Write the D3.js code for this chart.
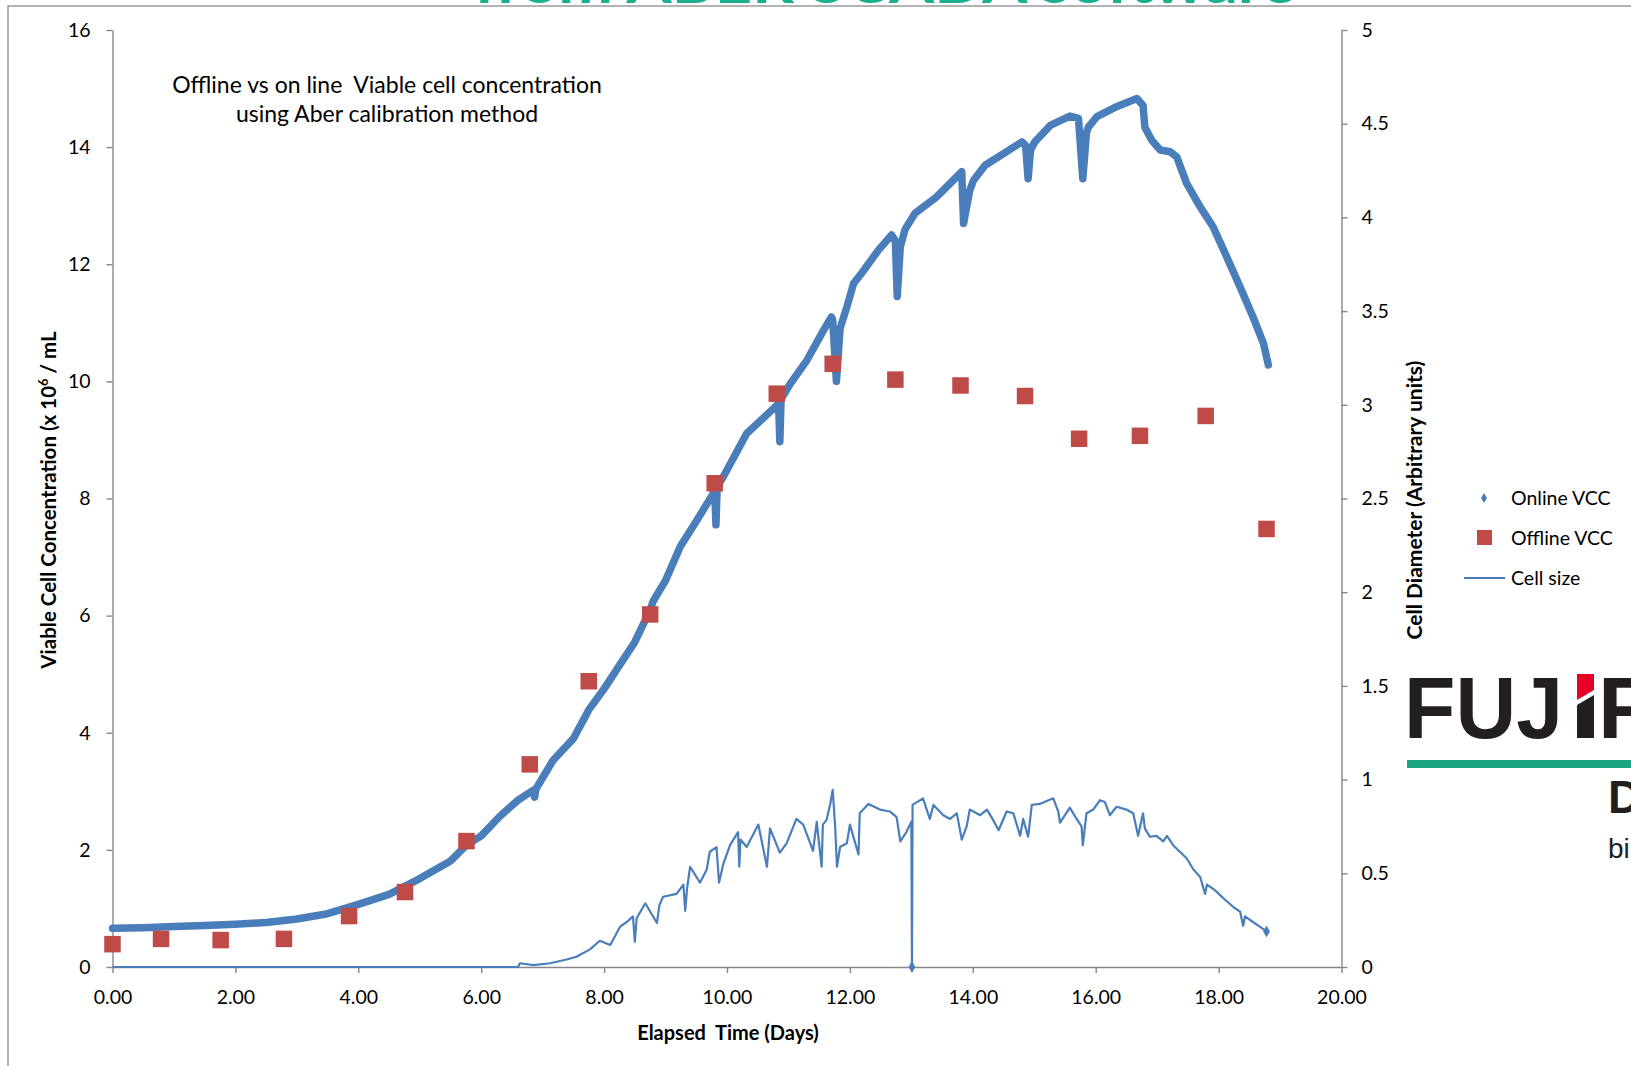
<!DOCTYPE html>
<html>
<head>
<meta charset="utf-8">
<script src="https://cdn.jsdelivr.net/npm/d3@7"></script>
<style>
  body { margin: 0; background: #fff; }
  text { font-family: Lato, "Open Sans", sans-serif; }
</style>
</head>
<body>
<script>
// offline samples (red squares)
var offlineDays = [0.0, 0.79, 1.76, 2.79, 3.85, 4.76, 5.76, 6.79, 7.75, 8.75, 9.80, 10.81, 11.72, 12.74, 13.80, 14.85, 15.73, 16.72, 17.79, 18.78];
var offlineVcc = [0.39, 0.48, 0.46, 0.48, 0.87, 1.28, 2.15, 3.46, 4.88, 6.02, 8.26, 9.79, 10.30, 10.03, 9.93, 9.75, 9.02, 9.07, 9.41, 7.48];

// online VCC (dips are the sampling events)
var onlineDays = [0.00, 0.50, 1.00, 1.50, 2.00, 2.50, 3.00, 3.50, 4.00, 4.50, 5.00, 5.50, 5.76, 6.00, 6.30, 6.60, 6.85, 6.87, 6.89, 7.17,
  7.50, 7.75, 8.00, 8.25, 8.50, 8.75, 8.80, 9.00, 9.24, 9.51, 9.78, 9.80, 9.82, 9.84, 9.94, 10.32, 10.70, 10.84, 10.86, 10.88,
  11.03, 11.30, 11.57, 11.70, 11.72, 11.78, 11.84, 11.95, 12.06, 12.20, 12.47, 12.68, 12.74, 12.77, 12.82, 12.90, 13.06, 13.40, 13.65, 13.82,
  13.85, 13.95, 14.01, 14.20, 14.50, 14.80, 14.86, 14.90, 14.94, 15.01, 15.26, 15.58, 15.72, 15.79, 15.85, 15.88, 16.02, 16.34, 16.67, 16.77,
  16.80, 16.91, 17.05, 17.21, 17.32, 17.48, 17.70, 17.91, 18.13, 18.35, 18.56, 18.73, 18.81];
var onlineVcc = [0.66, 0.67, 0.69, 0.71, 0.73, 0.76, 0.82, 0.91, 1.07, 1.24, 1.51, 1.81, 2.08, 2.24, 2.57, 2.85, 3.02, 2.90, 3.04, 3.53,
  3.90, 4.39, 4.75, 5.15, 5.55, 6.10, 6.25, 6.60, 7.18, 7.63, 8.09, 8.12, 7.55, 8.20, 8.37, 9.11, 9.48, 9.62, 8.97, 9.70,
  9.96, 10.36, 10.87, 11.10, 11.05, 10.00, 10.90, 11.27, 11.67, 11.86, 12.25, 12.50, 12.40, 11.45, 12.30, 12.60, 12.87, 13.14, 13.40, 13.58,
  12.70, 13.26, 13.43, 13.69, 13.89, 14.09, 14.03, 13.46, 13.95, 14.09, 14.37, 14.53, 14.49, 13.46, 14.25, 14.34, 14.52, 14.69, 14.83, 14.71,
  14.34, 14.12, 13.95, 13.92, 13.83, 13.38, 12.98, 12.64, 12.13, 11.61, 11.10, 10.65, 10.28];

// cell size (right axis)
var sizeDays = [0.00, 6.60, 6.63, 6.85, 7.12, 7.39, 7.55, 7.77, 7.93, 8.10, 8.26, 8.37, 8.47, 8.50, 8.53, 8.67, 8.86, 8.90, 8.96, 9.18,
  9.29, 9.32, 9.35, 9.40, 9.56, 9.67, 9.72, 9.83, 9.87, 9.94, 10.05, 10.18, 10.20, 10.22, 10.32, 10.51, 10.65, 10.70, 10.86, 10.97,
  11.13, 11.24, 11.40, 11.46, 11.54, 11.56, 11.62, 11.68, 11.72, 11.76, 11.79, 11.84, 11.95, 12.00, 12.14, 12.16, 12.30, 12.49, 12.65, 12.76,
  12.82, 12.92, 13.00, 13.01, 13.02, 13.19, 13.30, 13.36, 13.52, 13.63, 13.74, 13.82, 13.90, 13.95, 14.12, 14.23, 14.33, 14.42, 14.55, 14.66,
  14.77, 14.82, 14.90, 14.96, 15.09, 15.23, 15.31, 15.39, 15.42, 15.58, 15.69, 15.77, 15.79, 15.85, 15.96, 16.07, 16.15, 16.23, 16.34, 16.50,
  16.61, 16.69, 16.77, 16.80, 16.88, 16.99, 17.10, 17.16, 17.26, 17.37, 17.48, 17.59, 17.70, 17.78, 17.81, 17.94, 18.10, 18.24, 18.35, 18.40,
  18.43, 18.56, 18.67, 18.78];
var sizeValues = [0, 0, 0.02, 0.01, 0.02, 0.04, 0.055, 0.094, 0.14, 0.117, 0.215, 0.24, 0.27, 0.135, 0.26, 0.34, 0.235, 0.33, 0.375, 0.39,
  0.44, 0.30, 0.42, 0.535, 0.45, 0.52, 0.615, 0.64, 0.45, 0.55, 0.65, 0.72, 0.535, 0.68, 0.64, 0.76, 0.535, 0.74, 0.61, 0.66,
  0.79, 0.76, 0.62, 0.775, 0.535, 0.76, 0.785, 0.87, 0.945, 0.75, 0.535, 0.64, 0.66, 0.76, 0.60, 0.82, 0.87, 0.84, 0.83, 0.80,
  0.67, 0.72, 0.775, 0.0, 0.865, 0.90, 0.79, 0.865, 0.81, 0.79, 0.82, 0.68, 0.75, 0.84, 0.81, 0.84, 0.785, 0.73, 0.83, 0.82,
  0.70, 0.79, 0.695, 0.865, 0.87, 0.89, 0.90, 0.83, 0.77, 0.85, 0.79, 0.75, 0.65, 0.82, 0.84, 0.89, 0.88, 0.81, 0.855, 0.84,
  0.82, 0.70, 0.82, 0.74, 0.695, 0.70, 0.67, 0.70, 0.65, 0.615, 0.58, 0.52, 0.48, 0.39, 0.44, 0.41, 0.36, 0.32, 0.295, 0.22,
  0.27, 0.24, 0.215, 0.19];

var xTicks = [0, 2, 4, 6, 8, 10, 12, 14, 16, 18, 20];
var leftTicks = [0, 2, 4, 6, 8, 10, 12, 14, 16];
var rightTicks = [0, 0.5, 1, 1.5, 2, 2.5, 3, 3.5, 4, 4.5, 5];

var W = 1631, H = 1066;
var blue = "#4A7EBB", red = "#BE4B48", axisGrey = "#868686";

var svg = d3.select("body").append("svg")
    .attr("width", W)
    .attr("height", H);

// scales
var x = d3.scaleLinear().domain([0, 20]).range([112.5, 1341.5]);
var yL = d3.scaleLinear().domain([0, 16]).range([967, 30]);
var yR = d3.scaleLinear().domain([0, 5]).range([967, 30]);

// slide frame + cut off headline
svg.append("text")
    .attr("x", 885).attr("y", 3)
    .attr("text-anchor", "middle")
    .attr("textLength", 822).attr("lengthAdjust", "spacingAndGlyphs")
    .style("font-size", "58px").style("font-weight", "bold")
    .style("fill", "#1BAF8E")
    .text("from ABER SCADA software");

svg.append("path")
    .attr("d", "M8," + H + "V6H" + W)
    .attr("fill", "none").attr("stroke", "#9a9a9a").attr("stroke-width", 1.5);

// axes
function styleAxis(g) {
  g.selectAll("path, line").attr("stroke", axisGrey).attr("stroke-width", 1.4);
  g.selectAll("text").style("font-size", "19.5px").style("fill", "#000")
    .style("font-family", "Lato, sans-serif");
}

var xAxis = svg.append("g")
    .attr("transform", "translate(0," + yL(0) + ")")
    .call(d3.axisBottom(x).tickValues(xTicks).tickFormat(d3.format(".2f"))
      .tickSizeInner(6).tickSizeOuter(0).tickPadding(17));
styleAxis(xAxis);

var leftAxis = svg.append("g")
    .attr("transform", "translate(" + x(0) + ",0)")
    .call(d3.axisLeft(yL).tickValues(leftTicks).tickSizeInner(6).tickSizeOuter(0).tickPadding(16));
styleAxis(leftAxis);

var rightAxis = svg.append("g")
    .attr("transform", "translate(" + x(20) + ",0)")
    .call(d3.axisRight(yR).tickValues(rightTicks).tickFormat(d3.format("")).tickSizeInner(6).tickSizeOuter(0).tickPadding(14));
styleAxis(rightAxis);

// axis titles
var lt = svg.append("text")
    .attr("transform", "translate(56,500) rotate(-90)")
    .attr("text-anchor", "middle")
    .style("font-size", "20.5px").style("font-weight", "bold");
lt.append("tspan").text("Viable Cell Concentration (x 10");
lt.append("tspan").attr("baseline-shift", "super").style("font-size", "13px").text("6");
lt.append("tspan").text(" / mL");

svg.append("text")
    .attr("transform", "translate(1422,500) rotate(-90)")
    .attr("text-anchor", "middle")
    .style("font-size", "21px").style("font-weight", "bold")
    .text("Cell Diameter (Arbitrary units)");

svg.append("text")
    .attr("x", 728).attr("y", 1040)
    .attr("text-anchor", "middle")
    .attr("xml:space", "preserve")
    .style("font-size", "20px").style("font-weight", "bold")
    .text("Elapsed  Time (Days)");

// inner title
var title = svg.append("text")
    .attr("text-anchor", "middle")
    .attr("xml:space", "preserve")
    .style("font-size", "23px");
title.append("tspan").attr("x", 387).attr("y", 93).text("Offline vs on line  Viable cell concentration");
title.append("tspan").attr("x", 387).attr("y", 122).text("using Aber calibration method");

// build rows from the arrays
var online = onlineDays.map(function(d, i) { return {day: d, v: onlineVcc[i]}; });
var offline = offlineDays.map(function(d, i) { return {day: d, v: offlineVcc[i]}; });
var size = sizeDays.map(function(d, i) { return {day: d, v: sizeValues[i]}; });

// cell size line
var sizeLine = d3.line()
    .x(function(d) { return x(d.day); })
    .y(function(d) { return yR(d.v); });

svg.append("path")
    .datum(size)
    .attr("d", sizeLine)
    .attr("fill", "none")
    .attr("stroke", blue)
    .attr("stroke-width", 2.2)
    .attr("stroke-linejoin", "round");

var diamond = d3.symbol().type(d3.symbolDiamond).size(40);
svg.selectAll(".size-end")
    .data(size.filter(function(d, i) { return d.v === 0 && d.day > 12; }).concat([size[size.length - 1]]))
  .enter().append("path")
    .attr("transform", function(d) { return "translate(" + x(d.day) + "," + yR(d.v) + ")"; })
    .attr("d", diamond)
    .attr("fill", blue);

// online VCC - thick band of markers
var vccLine = d3.line()
    .x(function(d) { return x(d.day); })
    .y(function(d) { return yL(d.v); });

svg.append("path")
    .datum(online)
    .attr("d", vccLine)
    .attr("fill", "none")
    .attr("stroke", blue)
    .attr("stroke-width", 7.5)
    .attr("stroke-linejoin", "round")
    .attr("stroke-linecap", "round");

// offline squares
var sq = 16.5;
svg.selectAll(".off")
    .data(offline)
  .enter().append("rect")
    .attr("x", function(d) { return x(d.day) - sq / 2; })
    .attr("y", function(d) { return yL(d.v) - sq / 2; })
    .attr("width", sq).attr("height", sq)
    .attr("fill", red);

// legend
var legend = svg.append("g");
legend.append("path")
    .attr("transform", "translate(1484,498)")
    .attr("d", d3.symbol().type(d3.symbolDiamond).size(30))
    .attr("fill", blue);
legend.append("rect")
    .attr("x", 1477).attr("y", 530).attr("width", 15).attr("height", 15)
    .attr("fill", red);
legend.append("line")
    .attr("x1", 1464).attr("x2", 1505).attr("y1", 578).attr("y2", 578)
    .attr("stroke", blue).attr("stroke-width", 2);
["Online VCC", "Offline VCC", "Cell size"].forEach(function(t, i) {
  legend.append("text")
      .attr("x", 1511).attr("y", 505 + i * 40)
      .style("font-size", "19.5px")
      .text(t);
});

// logo (cut off at the right edge)
var logo = svg.append("g");
logo.append("text")
    .attr("x", 1404).attr("y", 738)
    .attr("textLength", 159).attr("lengthAdjust", "spacingAndGlyphs")
    .style("font-family", "'Liberation Sans', sans-serif")
    .style("font-size", "88px").style("font-weight", "bold").style("fill", "#231f20")
    .text("FUJ");
logo.append("polygon")
    .attr("points", "1577,674 1594,674 1594,690 1577,700")
    .attr("fill", "#E60028");
logo.append("polygon")
    .attr("points", "1577,705 1594,695 1594,738 1577,738")
    .attr("fill", "#231f20");
logo.append("text")
    .attr("x", 1598).attr("y", 738)
    .style("font-family", "'Liberation Sans', sans-serif")
    .style("font-size", "88px").style("font-weight", "bold").style("fill", "#231f20")
    .text("F");
logo.append("rect")
    .attr("x", 1407).attr("y", 760).attr("width", W - 1407).attr("height", 8)
    .attr("fill", "#1AA67E");
logo.append("text")
    .attr("x", 1608).attr("y", 813)
    .style("font-family", "'Liberation Sans', sans-serif")
    .style("font-size", "46px").style("font-weight", "bold").style("fill", "#231f20")
    .text("D");
logo.append("text")
    .attr("x", 1608).attr("y", 858)
    .style("font-family", "'Liberation Sans', sans-serif")
    .style("font-size", "28px").style("fill", "#231f20")
    .text("bi");
</script>
</body>
</html>
